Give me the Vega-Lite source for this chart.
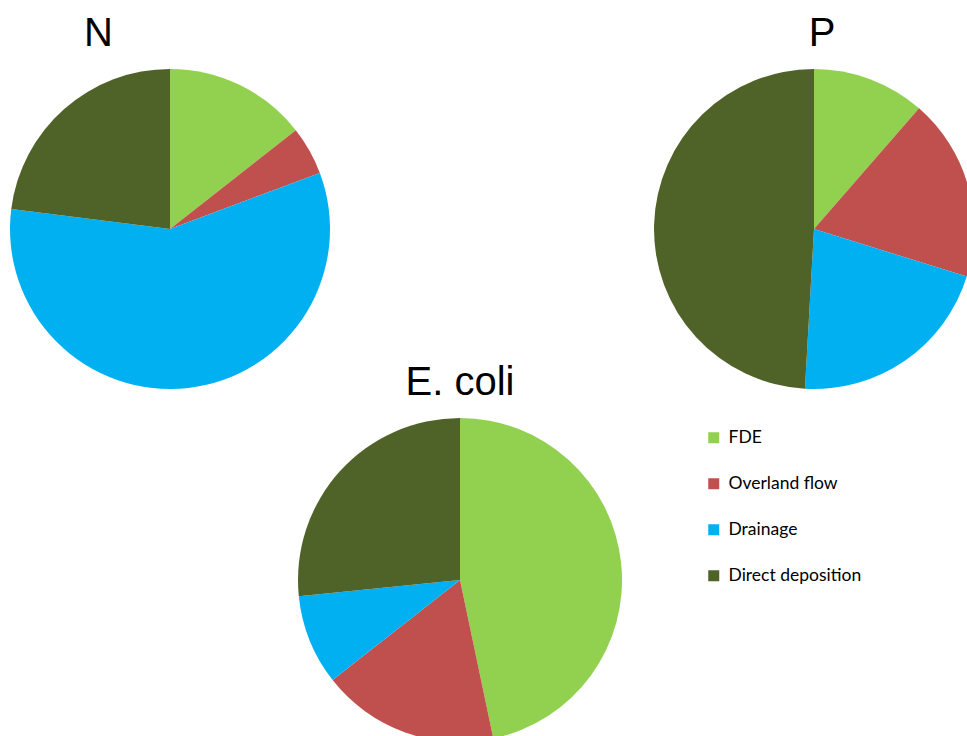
{
  "$schema": "https://vega.github.io/schema/vega-lite/v6.json",
  "background": "white",
  "padding": {"left": 10, "top": 14, "right": 0, "bottom": 0},
  "config": {
    "view": {"stroke": null},
    "title": {"font": "Liberation Sans", "fontSize": 40, "fontWeight": "normal", "color": "black"}
  },
  "datasets": {
    "shares": [
      {"pie": "N", "source": "FDE", "idx": 1, "value": 14.4},
      {"pie": "N", "source": "Overland flow", "idx": 2, "value": 4.9},
      {"pie": "N", "source": "Drainage", "idx": 3, "value": 57.7},
      {"pie": "N", "source": "Direct deposition", "idx": 4, "value": 23.0},
      {"pie": "P", "source": "FDE", "idx": 1, "value": 11.4},
      {"pie": "P", "source": "Overland flow", "idx": 2, "value": 18.4},
      {"pie": "P", "source": "Drainage", "idx": 3, "value": 21.1},
      {"pie": "P", "source": "Direct deposition", "idx": 4, "value": 49.1},
      {"pie": "E. coli", "source": "FDE", "idx": 1, "value": 46.7},
      {"pie": "E. coli", "source": "Overland flow", "idx": 2, "value": 17.7},
      {"pie": "E. coli", "source": "Drainage", "idx": 3, "value": 9.0},
      {"pie": "E. coli", "source": "Direct deposition", "idx": 4, "value": 26.6}
    ]
  },
  "data": {"name": "shares"},
  "spacing": -26,
  "vconcat": [
    {
      "spacing": 324,
      "hconcat": [
        {
          "title": {"text": "N", "anchor": "start", "dx": 74, "offset": 15},
          "width": 320,
          "height": 320,
          "transform": [{"filter": "datum.pie === 'N'"}],
          "mark": {"type": "arc"},
          "encoding": {
            "theta": {"field": "value", "type": "quantitative", "stack": "normalize"},
            "order": {"field": "idx", "type": "quantitative"},
            "color": {
              "field": "source", "type": "nominal",
              "scale": {"domain": ["FDE", "Overland flow", "Drainage", "Direct deposition"], "range": ["#92D050", "#C0504D", "#00B0F0", "#4F6228"]},
              "legend": {"orient": "none", "legendX": 695, "legendY": 360, "title": null, "symbolType": "square", "symbolSize": 121, "symbolStrokeWidth": 0, "symbolOpacity": 1, "labelFont": "Lato", "labelFontSize": 17.5, "labelColor": "black", "rowPadding": 27, "labelOffset": 6, "padding": 0}
            }
          }
        },
        {
          "title": {"text": "P", "anchor": "middle", "dx": 8, "offset": 15},
          "width": 320,
          "height": 320,
          "transform": [{"filter": "datum.pie === 'P'"}],
          "mark": {"type": "arc"},
          "encoding": {
            "theta": {"field": "value", "type": "quantitative", "stack": "normalize"},
            "order": {"field": "idx", "type": "quantitative"},
            "color": {
              "field": "source", "type": "nominal",
              "scale": {"domain": ["FDE", "Overland flow", "Drainage", "Direct deposition"], "range": ["#92D050", "#C0504D", "#00B0F0", "#4F6228"]},
              "legend": {"orient": "none", "legendX": 695, "legendY": 360, "title": null, "symbolType": "square", "symbolSize": 121, "symbolStrokeWidth": 0, "symbolOpacity": 1, "labelFont": "Lato", "labelFontSize": 17.5, "labelColor": "black", "rowPadding": 27, "labelOffset": 6, "padding": 0}
            }
          }
        }
      ]
    },
    {
      "title": {"text": "E. coli", "anchor": "middle", "offset": 15},
      "width": 900,
      "height": 324,
      "transform": [{"filter": "datum.pie === 'E. coli'"}],
      "mark": {"type": "arc"},
      "encoding": {
        "theta": {"field": "value", "type": "quantitative", "stack": "normalize"},
        "order": {"field": "idx", "type": "quantitative"},
        "color": {
          "field": "source", "type": "nominal",
          "scale": {"domain": ["FDE", "Overland flow", "Drainage", "Direct deposition"], "range": ["#92D050", "#C0504D", "#00B0F0", "#4F6228"]},
          "legend": {"orient": "none", "legendX": 695, "legendY": 360, "title": null, "symbolType": "square", "symbolSize": 121, "symbolStrokeWidth": 0, "symbolOpacity": 1, "labelFont": "Lato", "labelFontSize": 17.5, "labelColor": "black", "rowPadding": 27, "labelOffset": 6, "padding": 0}
        }
      }
    }
  ]
}
